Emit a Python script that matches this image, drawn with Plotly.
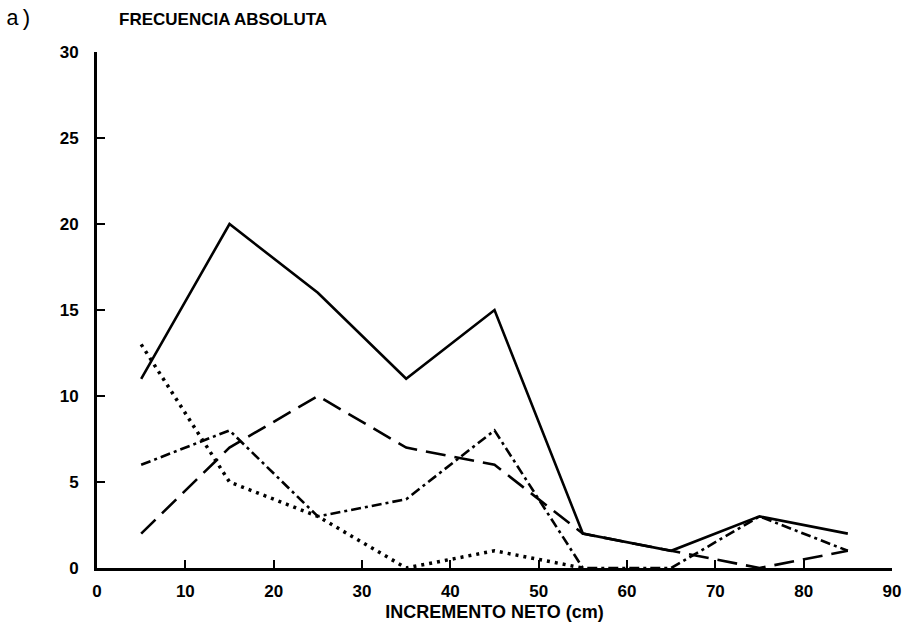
import plotly.graph_objects as go

x_mid = [5, 15, 25, 35, 45, 55, 65, 75, 85]
solid = [11, 20, 16, 11, 15, 2, 1, 3, 2]
long_dash = [2, 7, 10, 7, 6, 2, 1, 0, 1]
dash_dot = [6, 8, 3, 4, 8, 0, 0, 3, 1]
x_dot = [5, 15, 25, 35, 45, 55]
dotted = [13, 5, 3, 0, 1, 0]

x_ticks = [0, 10, 20, 30, 40, 50, 60, 70, 80, 90]
y_ticks = [0, 5, 10, 15, 20, 25, 30]

fig = go.Figure()
fig.add_trace(go.Scatter(x=x_mid, y=solid, mode="lines",
                         line=dict(color="black", width=2.6)))
fig.add_trace(go.Scatter(x=x_mid, y=long_dash, mode="lines",
                         line=dict(color="black", width=2.6, dash="20px,9px")))
fig.add_trace(go.Scatter(x=x_mid, y=dash_dot, mode="lines",
                         line=dict(color="black", width=2.6, dash="10px,4px,3px,4px")))
fig.add_trace(go.Scatter(x=x_dot, y=dotted, mode="lines",
                         line=dict(color="black", width=3.5, dash="3px,5px")))

font_bold = dict(family="Liberation Sans", size=17, color="black", weight="bold")

fig.update_layout(
    width=918, height=635,
    margin=dict(l=97, r=26, t=52, b=67),
    paper_bgcolor="white", plot_bgcolor="white",
    showlegend=False,
    xaxis=dict(range=[0, 90], tickvals=x_ticks, ticktext=[str(v) for v in x_ticks],
               showgrid=False, zeroline=False, showline=True, linecolor="black",
               linewidth=3, ticks="inside", ticklen=8, tickwidth=2, tickcolor="black",
               tickfont=font_bold, ticklabelstandoff=6,
               title=dict(text="INCREMENTO NETO (cm)", standoff=5,
                          font=dict(family="Liberation Sans", size=18, color="black", weight="bold"))),
    yaxis=dict(range=[0, 30], tickvals=y_ticks, ticktext=[str(v) for v in y_ticks],
               showgrid=False, zeroline=False, showline=True, linecolor="black",
               linewidth=3, ticks="inside", ticklen=8, tickwidth=2, tickcolor="black",
               tickfont=font_bold, ticklabelstandoff=12),
    annotations=[
        dict(text="a)", x=(4 - 97) / 795, y=(568 - 20) / 516, xref="paper", yref="paper",
             xanchor="left", yanchor="middle", showarrow=False,
             font=dict(family="Liberation Mono", size=22, color="black")),
        dict(text="FRECUENCIA ABSOLUTA", x=(117 - 97) / 795, y=(568 - 20) / 516, xref="paper", yref="paper",
             xanchor="left", yanchor="middle", showarrow=False,
             font=dict(family="Liberation Sans", size=17, color="black", weight="bold")),
    ],
)

fig.write_html("out.html")
